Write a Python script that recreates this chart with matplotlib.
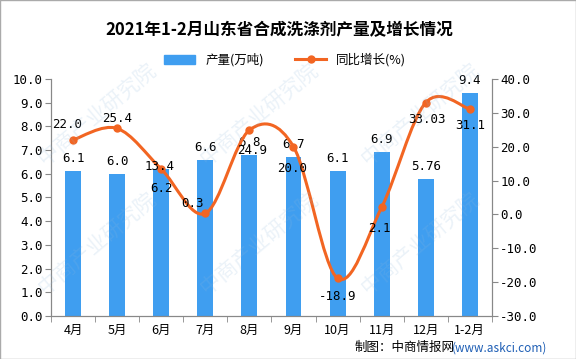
import matplotlib.pyplot as plt
import numpy as np
from matplotlib.path import Path
from matplotlib.patches import PathPatch, Rectangle
from matplotlib.lines import Line2D

plt.rcParams['font.family'] = ['Noto Sans CJK SC', 'DejaVu Sans']

# 数据
months = ["4月", "5月", "6月", "7月", "8月", "9月", "10月", "11月", "12月", "1-2月"]
output = [6.1, 6.0, 6.2, 6.6, 6.8, 6.7, 6.1, 6.9, 5.76, 9.4]
output_labels = ["6.1", "6.0", "6.2", "6.6", "6.8", "6.7", "6.1", "6.9", "5.76", "9.4"]
growth = [22.0, 25.4, 13.4, 0.3, 24.9, 20.0, -18.9, 2.1, 33.03, 31.1]
growth_labels = ["22.0", "25.4", "13.4", "0.3", "24.9", "20.0", "-18.9", "2.1", "33.03", "31.1"]

bar_color = "#3f9ef0"
line_color = "#f26522"
mono = ["DejaVu Sans Mono"]

fig = plt.figure(figsize=(5.76, 3.59), dpi=100)
ax = fig.add_axes([0.0885, 0.12, 0.7655, 0.66])
ax2 = ax.twinx()

x = np.arange(len(months))
ax.bar(x, output, 0.36, color=bar_color, zorder=2)
ax.set_xlim(-0.5, len(months) - 0.5)
ax.set_ylim(0, 10)
ax.set_yticks(np.arange(0, 10.01, 1.0))
ax.set_yticklabels([f"{v:.1f}" for v in np.arange(0, 10.01, 1.0)], family=mono, fontsize=9)
ax.set_xticks(x)
ax.set_xticklabels(months, fontsize=9)
ax.set_xticks(np.arange(-0.5, len(months), 1.0), minor=True)
ax.tick_params(axis="x", which="major", length=0, pad=6)
ax.tick_params(axis="x", which="minor", length=4, color="#888888")
ax.tick_params(axis="y", length=4, color="#888888", pad=2)

# 柱标签
bar_offsets = [9] * len(output)
bar_offsets[2] = -14
for xi, v, lab, off in zip(x, output, output_labels, bar_offsets):
    ax.annotate(lab, (xi, v), xytext=(0, off), textcoords="offset points",
                ha="center", va="center", family=mono, fontsize=9, zorder=5)

ax2.set_ylim(-30, 40)
ax2.set_yticks(np.arange(-30, 40.1, 10))
ax2.set_yticklabels([f"{v:.1f}" for v in np.arange(-30, 40.1, 10)], family=mono, fontsize=9)
ax2.tick_params(axis="y", length=4, color="#888888", pad=2)

for a in (ax, ax2):
    a.spines["top"].set_visible(False)
    for s in ("left", "right", "bottom"):
        a.spines[s].set_color("#888888")

# 平滑曲线 (Catmull-Rom -> Bezier)
pts = np.column_stack([x, growth]).astype(float)
verts = [pts[0]]
codes = [Path.MOVETO]
n = len(pts)
for i in range(n - 1):
    p0 = pts[i - 1] if i > 0 else pts[i]
    p1 = pts[i]
    p2 = pts[i + 1]
    p3 = pts[i + 2] if i + 2 < n else pts[i + 1]
    c1 = p1 + (p2 - p0) / 6
    c2 = p2 - (p3 - p1) / 6
    verts += [c1, c2, p2]
    codes += [Path.CURVE4] * 3
ax2.add_patch(PathPatch(Path(verts, codes), fill=False, edgecolor=line_color, lw=2.2, zorder=3))
ax2.plot(x, growth, "o", color=line_color, ms=5, zorder=4)

growth_offsets = [(-4, 11), (0, 7), (-1, 2), (-9, 7), (2, -15), (-1, -16), (0, -13), (-2, -15), (1, -12), (0, -12)]
for xi, v, lab, off in zip(x, growth, growth_labels, growth_offsets):
    ax2.annotate(lab, (xi, v), xytext=off, textcoords="offset points",
                 ha="center", va="center", family=mono, fontsize=9, zorder=5)

# 标题、图例、来源
fig.text(0.484, 0.915, "2021年1-2月山东省合成洗涤剂产量及增长情况", ha="center", va="center",
         fontsize=12, fontweight="bold")
handles = [Rectangle((0, 0), 1, 1, color=bar_color),
           Line2D([], [], color=line_color, lw=2.2, marker="o", ms=5)]
fig.legend(handles, ["产量(万吨)", "同比增长(%)"], loc="center", bbox_to_anchor=(0.495, 0.833),
           ncol=2, frameon=False, fontsize=9, handlelength=2.5, columnspacing=2.5)
fig.text(0.616, 0.031, "制图：中商情报网", ha="left", va="center", fontsize=9)
fig.text(0.785, 0.031, "(www.askci.com)", ha="left", va="center", fontsize=8.5, color="#1f5fb5")

# 水印
for wx in (0.17, 0.45, 0.73):
    for wy in (0.32, 0.68):
        fig.text(wx, wy, "中商产业研究院", rotation=40, fontsize=15, color="#8fb8dc",
                 alpha=0.18, ha="center", va="center", zorder=10)

fig.add_artist(Rectangle((0, 0), 1, 1, transform=fig.transFigure, fill=False,
                         edgecolor="#aaaaaa", lw=1))

fig.savefig("out.png", dpi=100)
